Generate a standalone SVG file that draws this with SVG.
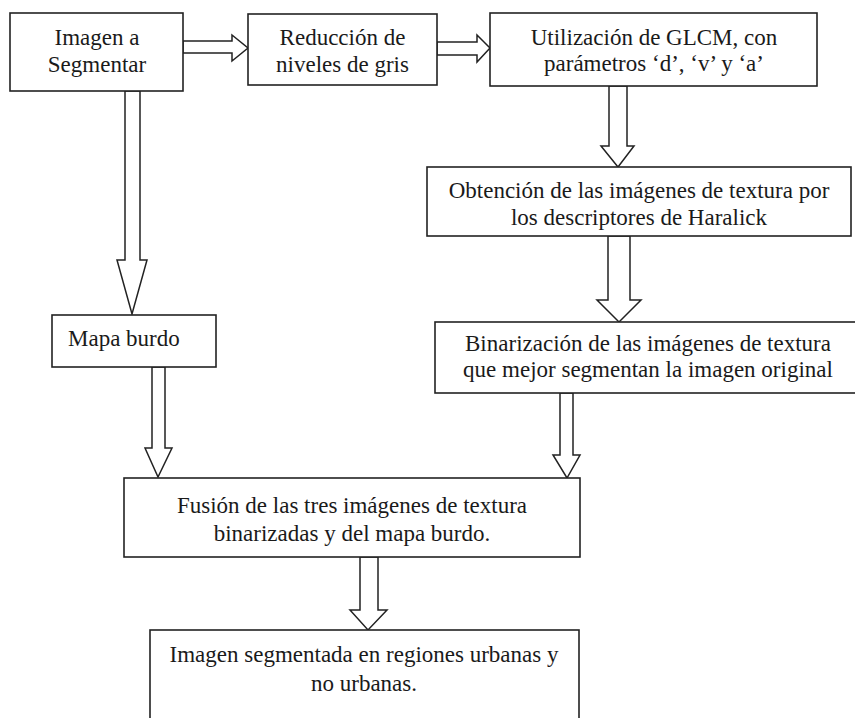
<svg xmlns="http://www.w3.org/2000/svg" width="855" height="718" viewBox="0 0 855 718">
<style>
.box{fill:#fff;stroke:#222;stroke-width:1.6}
.arr{fill:#fff;stroke:#222;stroke-width:1.5;stroke-linejoin:miter}
text{font-family:"Liberation Serif","Times New Roman",serif;font-size:23px;fill:#1a1a1a}
.c{text-anchor:middle}
</style>
<rect width="855" height="718" fill="#fff"/>
<g id="connectors">
<polygon class="arr" points="183,41 232,41 232,35 248,48 232,61 232,53 183,53"/>
<polygon class="arr" points="437,42 477,42 477,35 490,48 477,62 477,55 437,55"/>
<polygon class="arr" points="125,91 140,91 140,260 147,260 132,314 117,260 125,260"/>
<polygon class="arr" points="609,86 627,86 627,146 634,146 618,167 601,146 609,146"/>
<polygon class="arr" points="608,236 630,236 630,300 641,300 619,322 597,300 608,300"/>
<polygon class="arr" points="152,367 165,367 165,448 172,448 158,477 145,448 152,448"/>
<polygon class="arr" points="560,393 573,393 573,455 580,455 567,478 553,455 560,455"/>
<polygon class="arr" points="360,557 378,557 378,610 387,610 368,630 350,610 360,610"/>
</g>
<g id="n1">
<rect class="box" x="10" y="13" width="173" height="78"/>
<text class="c" x="97" y="45">Imagen a</text>
<text class="c" x="97" y="72">Segmentar</text>
</g>
<g id="n2">
<rect class="box" x="248" y="14" width="189" height="71"/>
<text class="c" x="342.5" y="45">Reducción de</text>
<text class="c" x="342.5" y="72">niveles de gris</text>
</g>
<g id="n3">
<rect class="box" x="490" y="13" width="327" height="73"/>
<text class="c" x="654" y="45">Utilización de GLCM, con</text>
<text class="c" x="654" y="71">parámetros ‘d’, ‘v’ y ‘a’</text>
</g>
<g id="n4">
<rect class="box" x="427" y="167" width="424" height="69"/>
<text class="c" x="639" y="198">Obtención de las imágenes de textura por</text>
<text class="c" x="639" y="225">los descriptores de Haralick</text>
</g>
<g id="n5">
<rect class="box" x="435" y="322" width="426" height="71"/>
<text class="c" x="648" y="351">Binarización de las imágenes de textura</text>
<text class="c" x="648" y="377">que mejor segmentan la imagen original</text>
</g>
<g id="n6">
<rect class="box" x="52" y="315" width="164" height="52"/>
<text x="68" y="346">Mapa burdo</text>
</g>
<g id="n7">
<rect class="box" x="124" y="478" width="456" height="79"/>
<text class="c" x="352" y="513">Fusión de las tres imágenes de textura</text>
<text class="c" x="352" y="541">binarizadas y del mapa burdo.</text>
</g>
<g id="n8">
<rect class="box" x="150" y="630" width="429" height="100"/>
<text class="c" x="364" y="662">Imagen segmentada en regiones urbanas y</text>
<text class="c" x="364" y="691">no urbanas.</text>
</g>
</svg>
